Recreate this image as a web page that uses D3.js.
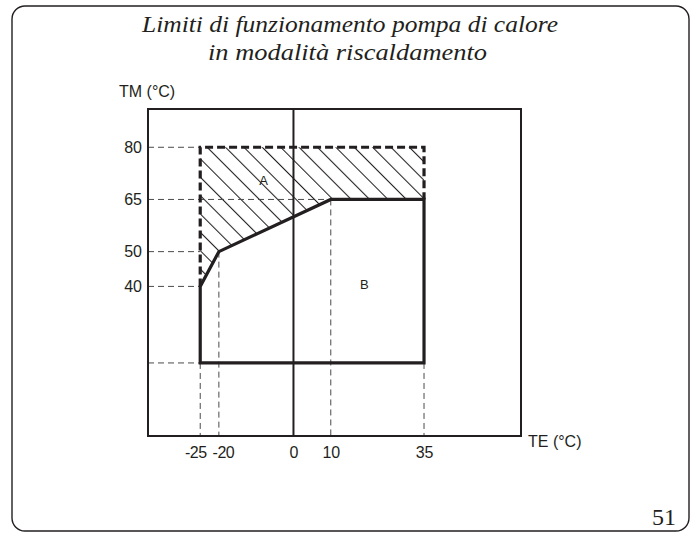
<!DOCTYPE html>
<html>
<head>
<meta charset="utf-8">
<script src="https://cdn.jsdelivr.net/npm/d3@7"></script>
<style>
  html, body { margin: 0; padding: 0; background: #fff; }
  svg { display: block; }
</style>
</head>
<body>
<svg id="chart" width="697" height="534"></svg>
<script>
// ---- data ----
const titleLines = ["Limiti di funzionamento pompa di calore", "in modalità riscaldamento"];
const pageNumber = "51";
const xLabel = "TE (°C)";
const yLabel = "TM (°C)";
const tickTE = [-25, -20, 0, 10, 35];
const tickTM = [40, 50, 65, 80];
const minTM = 18; // unlabelled lower limit
// operating envelope B (solid)
const envelopeTE = [-25, -25, -20, 10, 35, 35, -25];
const envelopeTM = [minTM, 40, 50, 65, 65, minTM, minTM];
// extension A (dashed upper boundary)
const extensionTE = [-25, -25, 35, 35];
const extensionTM = [40, 80, 80, 65];
// guide lines: horizontal guides end at TE value; vertical guides start at TM value
const guideHTM = [80, 65, 50, 40, minTM];
const guideHTE = [-25, 10, -25, -25, -25];
const guideVTE = [-25, -20, 10, 35];
const guideVTM = [minTM, 50, 65, minTM];
const regionLabels = ["A", "B"];
const regionTE = [-8, 19];
const regionTM = [70.5, 40.5];

// ---- scales ----
const x = d3.scaleLinear().domain([-39, 61]).range([148, 521]);
const y = d3.scaleLinear().domain([-3, 91]).range([436, 109]);

const svg = d3.select("#chart");
const ink = "#231f20";

// outer rounded border
svg.append("rect")
  .attr("x", 12).attr("y", 6).attr("width", 677).attr("height", 525)
  .attr("rx", 13).attr("ry", 13)
  .attr("fill", "none").attr("stroke", ink).attr("stroke-width", 1.4);

// title
const titleFont = "Liberation Serif, Times New Roman, serif";
const titleSpec = [{x: 142, y: 32, len: 416}, {x: 208, y: 60, len: 279}];
titleLines.forEach((t, i) => {
  svg.append("text")
    .attr("x", titleSpec[i].x).attr("y", titleSpec[i].y)
    .attr("textLength", titleSpec[i].len).attr("lengthAdjust", "spacingAndGlyphs")
    .attr("font-family", titleFont).attr("font-style", "italic")
    .attr("font-size", 24).attr("fill", ink)
    .text(t);
});

// page number
svg.append("text")
  .attr("x", 676).attr("y", 525).attr("text-anchor", "end")
  .attr("font-family", titleFont).attr("font-size", 24).attr("fill", ink)
  .text(pageNumber);

const [x0, x1] = x.range();
const [yb, yt] = y.range();

// hatch pattern
const defs = svg.append("defs");
const pat = defs.append("pattern")
  .attr("id", "hatch").attr("patternUnits", "userSpaceOnUse")
  .attr("width", 13).attr("height", 13)
  .attr("patternTransform", "translate(4,0) rotate(-45)");
pat.append("line").attr("x1", 0.5).attr("y1", -1).attr("x2", 0.5).attr("y2", 14)
  .attr("stroke", ink).attr("stroke-width", 1.1);

// region A polygon: extension boundary + upper envelope boundary
const regionA = [];
extensionTE.forEach((te, i) => regionA.push([x(te), y(extensionTM[i])]));
[[10, 65], [-20, 50], [-25, 40]].forEach(([te, tm]) => regionA.push([x(te), y(tm)]));
svg.append("path")
  .attr("d", d3.line()(regionA) + "Z")
  .attr("fill", "url(#hatch)").attr("stroke", "none");

// guide lines
const guideColor = "#4a4a4a";
guideHTM.forEach((tm, i) => {
  svg.append("line")
    .attr("x1", x0).attr("x2", x(guideHTE[i]))
    .attr("y1", y(tm)).attr("y2", y(tm))
    .attr("stroke", guideColor).attr("stroke-width", 1)
    .attr("stroke-dasharray", "6,4");
});
guideVTE.forEach((te, i) => {
  svg.append("line")
    .attr("x1", x(te)).attr("x2", x(te))
    .attr("y1", y(guideVTM[i])).attr("y2", yb)
    .attr("stroke", guideColor).attr("stroke-width", 1)
    .attr("stroke-dasharray", "6,4");
});

// frame
svg.append("rect")
  .attr("x", x0).attr("y", yt).attr("width", x1 - x0).attr("height", yb - yt)
  .attr("fill", "none").attr("stroke", ink).attr("stroke-width", 2);

// TM axis line at TE = 0
svg.append("line")
  .attr("x1", x(0)).attr("x2", x(0)).attr("y1", yt).attr("y2", yb)
  .attr("stroke", ink).attr("stroke-width", 2);

// extension dashed thick line
const lineGen = d3.line().x(d => x(d[0])).y(d => y(d[1]));
svg.append("path")
  .attr("d", lineGen(extensionTE.map((te, i) => [te, extensionTM[i]])))
  .attr("fill", "none").attr("stroke", ink).attr("stroke-width", 3.2)
  .attr("stroke-dasharray", "8,4");

// envelope solid thick
svg.append("path")
  .attr("d", lineGen(envelopeTE.map((te, i) => [te, envelopeTM[i]])) + "Z")
  .attr("fill", "none").attr("stroke", ink).attr("stroke-width", 3.2)
  .attr("stroke-linejoin", "miter");

// region labels
const axisFont = "Liberation Sans, Arial, Helvetica, sans-serif";
regionLabels.forEach((l, i) => {
  svg.append("text")
    .attr("x", x(regionTE[i])).attr("y", y(regionTM[i]))
    .attr("text-anchor", "middle").attr("dy", "0.35em")
    .attr("font-family", axisFont)
    .attr("font-size", 13).attr("fill", ink).text(l);
});

// axes
const gy = svg.append("g").attr("transform", `translate(${x0},0)`)
  .call(d3.axisLeft(y).tickValues(tickTM).tickSize(0).tickPadding(6).tickFormat(d => String(d)));
gy.select(".domain").remove();
gy.selectAll("text").attr("font-family", axisFont).attr("font-size", 16).attr("fill", ink);

const gx = svg.append("g").attr("transform", `translate(0,${yb})`)
  .call(d3.axisBottom(x).tickValues(tickTE).tickSize(0).tickPadding(11).tickFormat(d => String(d)));
gx.select(".domain").remove();
gx.selectAll("text").attr("font-family", axisFont).attr("font-size", 16).attr("fill", ink)
  .attr("letter-spacing", d => d < 0 ? "-0.5" : null)
  .attr("dx", d => d === -25 ? -5 : (d === -20 ? 4 : 0));

// axis titles
svg.append("text").attr("x", 119).attr("y", 97)
  .attr("font-family", axisFont).attr("font-size", 16).attr("fill", ink).text(yLabel);
svg.append("text").attr("x", 528).attr("y", 447)
  .attr("font-family", axisFont).attr("font-size", 16).attr("fill", ink).text(xLabel);
</script>
</body>
</html>
